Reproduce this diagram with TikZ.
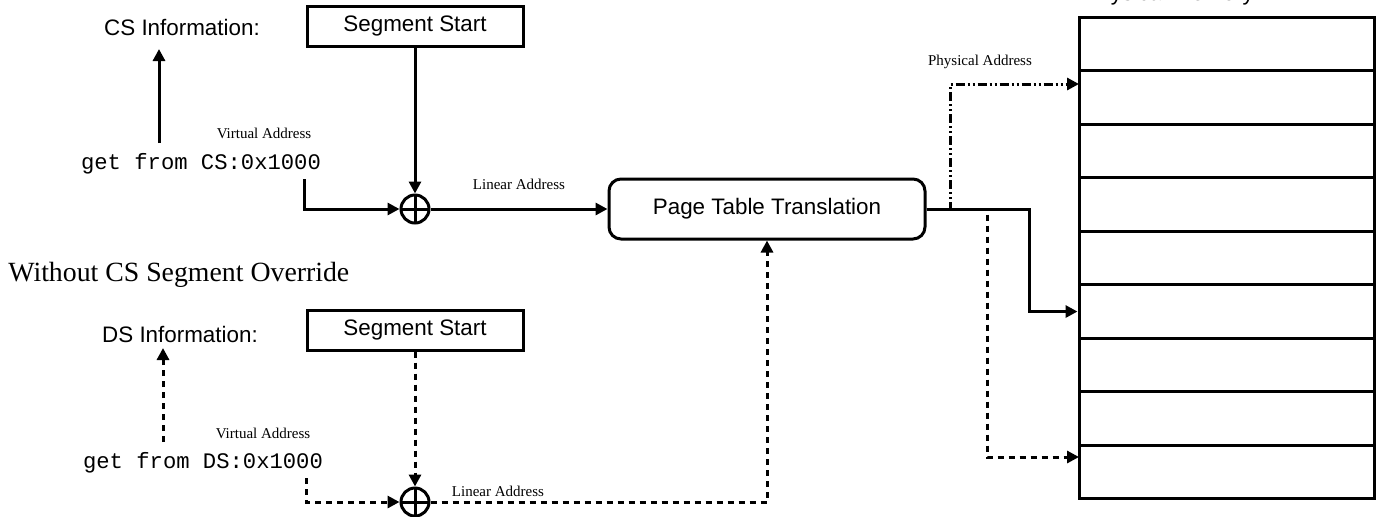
\documentclass[tikz,border=0pt]{standalone}
\usepackage{fontspec}
\setmainfont{Liberation Serif}
\newfontfamily\arialfont{Liberation Sans}
\newfontfamily\courfont{Liberation Mono}
\usepackage{tikz}
\usetikzlibrary{arrows.meta}
\usetikzlibrary{calc}

\tikzset{
	line/.style={line width=1.5pt},
	arr/.style={line, -{Triangle[length=6pt,width=6pt]}},
	dashline/.style={dash pattern=on 3pt off 2.5pt},
	dashdotline/.style={dash pattern=on 4.5pt off 1.5pt on 1pt off 1.5pt on 1pt off 1.5pt},
	infotext/.style={font=\arialfont\fontsize{11.2}{13}\selectfont, inner sep=0pt},
	codetext/.style={font=\courfont\fontsize{11.1}{13}\selectfont, inner sep=0pt},
	smalllabel/.style={font=\fontsize{7.5}{9}\selectfont, inner sep=0pt},
	segbox/.style={draw, line, infotext, minimum width=108pt, minimum height=20pt},
	ptbox/.style={draw, line, infotext, rounded corners=6pt, minimum width=158pt, minimum height=30pt},
	adder/.style={draw, line, circle, minimum size=14pt, inner sep=0pt,
		path picture={\draw[line] (path picture bounding box.north) -- (path picture bounding box.south)
			(path picture bounding box.west) -- (path picture bounding box.east);}},
	cell/.style={draw, line, minimum width=147.5pt, minimum height=26.78pt, inner sep=0pt},
}

\begin{document}
\begin{tikzpicture}[x=0.5pt,y=-0.5pt]

		\useasboundingbox (0,0) rectangle (1380,516);

		% with override
		\node [infotext] (csinfo) at (182,27) {CS Information:};
		\node [segbox] (seg1) at (415,26) {Segment Start};
		\node [codetext] (csget) at (201,164) {get from CS:0x1000};
		\node [smalllabel] (csvirt) at (264,133) {Virtual Address};
		\node [adder] (add1) at (415,209) {};
		\node [ptbox] (ptt) at (767,209) {Page Table Translation};

		% without override
		\node [font=\fontsize{13.9}{16}\selectfont, inner sep=0pt, anchor=west] (title) at (8,275) {Without CS Segment Override};
		\node [infotext] (dsinfo) at (180,334) {DS Information:};
		\node [segbox] (seg2) at (415,330) {Segment Start};
		\node [codetext] (dsget) at (203,463) {get from DS:0x1000};
		\node [smalllabel] (dsvirt) at (263,433) {Virtual Address};
		\node [adder] (add2) at (415,502) {};

		% memory
		\foreach \i in {1,...,9}
			\node [cell] (mem\i) at (1226.5,{17+53.55*(\i-0.5)}) {};
		\node [infotext, anchor=base west] (memtitle) at (1083,0.5) {Physical Memory};

		\coordinate (csup) at (159,143);
		\coordinate (csvin) at (304,179);
		\coordinate (dsup) at (163,442);
		\coordinate (dsvin) at (306,478);
		\coordinate (physturn) at (950,84);
		\coordinate (physin) at (1079,84);
		\coordinate (solidturn) at (1029,209);
		\coordinate (dashturn) at (987,457);
		\coordinate (dashin) at (1079,457);

		\draw [arr] (csup) -- (csup |- 0,49);
		\draw [arr] (seg1.south) -- (add1.north);
		\draw [arr] (csvin) |- (add1.west);
		\draw [arr] (add1.east) -- (ptt.west) node [smalllabel, midway, above=9pt] {Linear Address};

		\draw [arr, dashline] (dsup) -- (dsup |- 0,348);
		\draw [arr, dashline] (seg2.south) -- (add2.north);
		\draw [arr, dashline] (dsvin) |- (add2.west);
		\draw [arr, dashline] (add2.east) -| (ptt.south);
		\node [smalllabel] at (498,491) {Linear Address};

		\draw [arr] (ptt.east) -- (solidturn) |- (mem6.west);
		\draw [arr, dashline] (ptt.east) -| (dashturn) -- (dashin);
		\draw [arr, dashdotline] (ptt.east) -| (physturn) -- (physin);
		\node [smalllabel] at (980,62) {Physical Address};

\end{tikzpicture}
\end{document}
